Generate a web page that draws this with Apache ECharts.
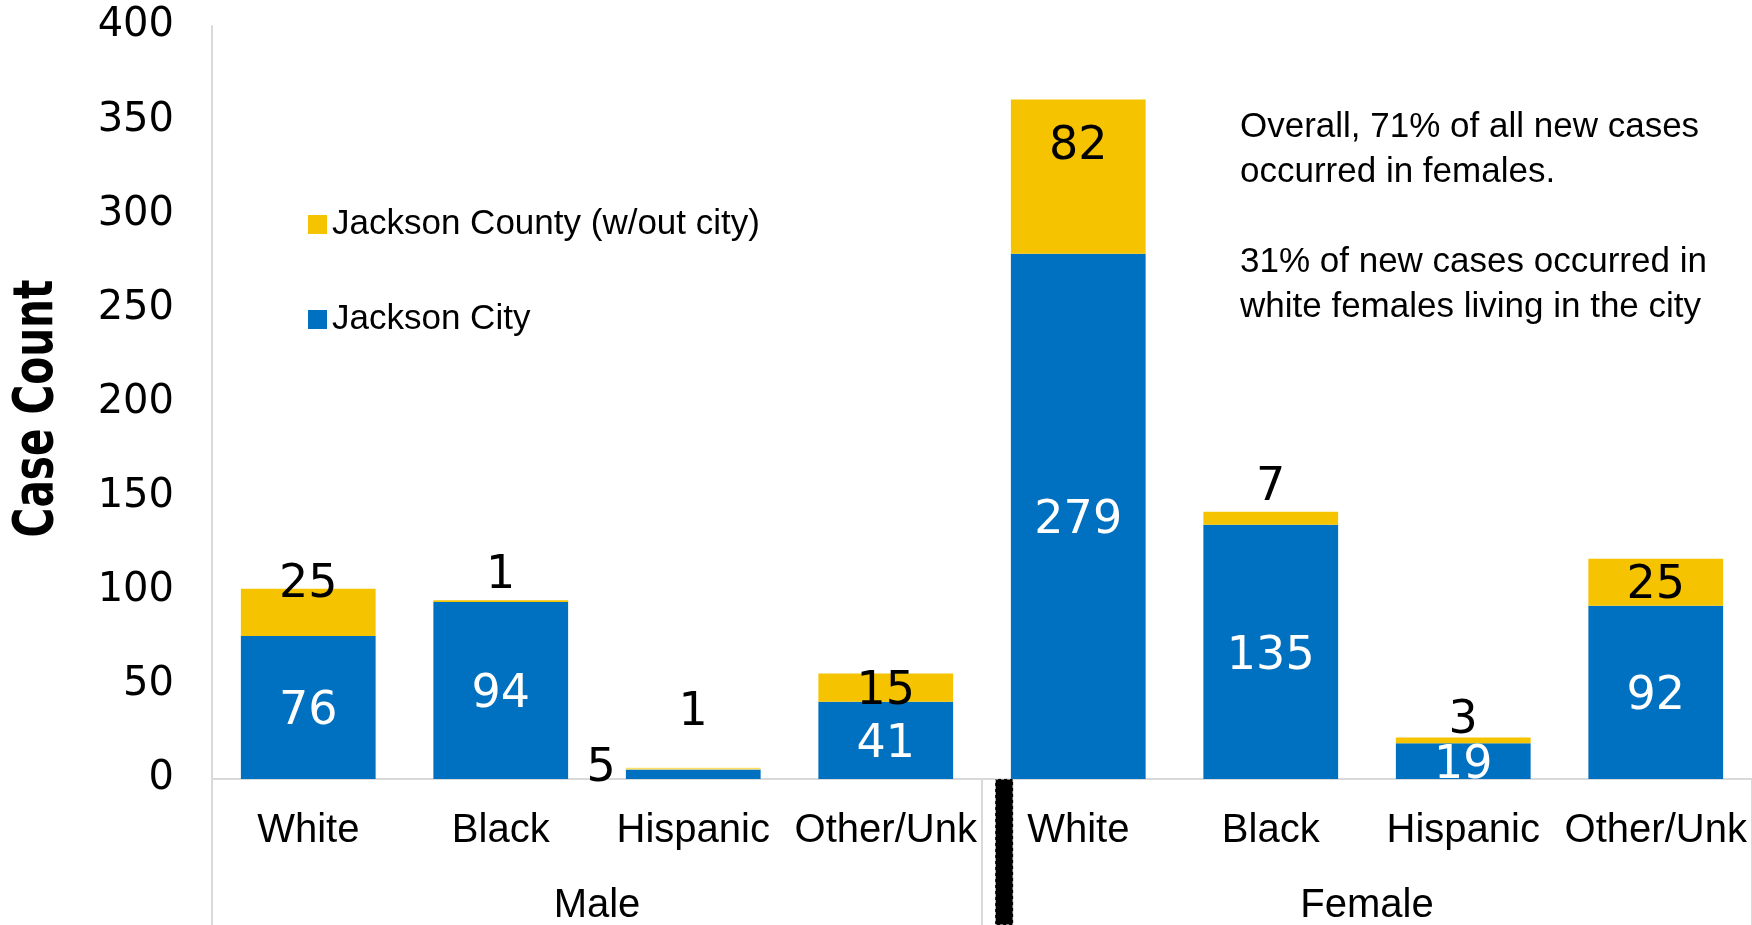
<!DOCTYPE html>
<html>
<head>
<meta charset="utf-8">
<title>Case Count by Sex and Race</title>
<script src="https://cdn.jsdelivr.net/npm/echarts@6/dist/echarts.min.js"></script>
<style>
  html, body { margin: 0; padding: 0; background: #ffffff; }
  #chart { width: 1752px; height: 925px; }
</style>
</head>
<body>
<div id="chart"></div>
<script>
// Race / ethnicity categories, grouped by sex
const categories = ['White', 'Black', 'Hispanic', 'Other/Unk', 'White', 'Black', 'Hispanic', 'Other/Unk'];
const groups = ['Male', 'Female'];

// New case counts
const cityCases = [76, 94, 5, 41, 279, 135, 19, 92];
const countyCases = [25, 1, 1, 15, 82, 7, 3, 25];

// Value axis
const yMin = 0;
const yMax = 400;
const yStep = 50;
const yTitle = 'Case Count';

const seriesNames = ['Jackson City', 'Jackson County (w/out city)'];

const noteLines = [
  'Overall, 71% of all new cases',
  'occurred in females.',
  '',
  '31% of new cases occurred in',
  'white females living in the city'
];

const BLUE = '#0070C0';
const YELLOW = '#F5C300';
const PALE_YELLOW = '#FFDF66';
const GRID_GREY = '#D9D9D9';
const TEXT_FONT = '"Liberation Sans", Arial, sans-serif';
const NUM_FONT = '"DejaVu Sans", sans-serif';

// Label placement for each county segment
const countyLabelStyle = [
  { position: 'top', offset: [0, 24] },
  { position: 'top', offset: [0, 4] },
  { position: 'top', offset: [0, -27] },
  { position: 'inside', offset: [0, 4] },
  { position: 'insideTop', distance: 20, offset: [0, 5] },
  { position: 'top', offset: [0, 4] },
  { position: 'top', offset: [0, 11] },
  { position: 'inside', offset: [0, 4] }
];

const cityData = cityCases.map(function (v, i) {
  if (i === 2) {
    return { value: v, label: { position: 'left', color: '#000', offset: [-5, -5] } };
  }
  return v;
});

const countyData = countyCases.map(function (v, i) {
  const item = { value: v, label: countyLabelStyle[i] };
  if (i === 2) item.itemStyle = { color: PALE_YELLOW };
  return item;
});

const chart = echarts.init(document.getElementById('chart'));

chart.setOption({
  animation: false,
  backgroundColor: '#ffffff',
  grid: { left: 212, right: 0, top: 26, bottom: 146, containLabel: false, outerBoundsMode: 'none' },
  legend: {
    orient: 'vertical',
    left: 303,
    top: 202,
    itemWidth: 19,
    itemHeight: 19,
    itemGap: 60,
    icon: 'rect',
    data: [seriesNames[1], seriesNames[0]],
    textStyle: { fontFamily: TEXT_FONT, fontSize: 35, color: '#000' }
  },
  xAxis: [
    {
      type: 'category',
      data: categories,
      axisLine: { show: true, lineStyle: { color: GRID_GREY, width: 2 } },
      axisTick: { show: false },
      axisLabel: { margin: 32, fontFamily: TEXT_FONT, fontSize: 40, color: '#000', interval: 0 }
    },
    {
      type: 'category',
      data: groups,
      position: 'bottom',
      axisLine: { show: false },
      axisTick: { show: true, length: 146, lineStyle: { color: GRID_GREY, width: 2 } },
      axisLabel: { margin: 107, fontFamily: TEXT_FONT, fontSize: 40, color: '#000' }
    }
  ],
  yAxis: {
    type: 'value',
    min: yMin,
    max: yMax,
    interval: yStep,
    axisLine: { show: true, lineStyle: { color: GRID_GREY, width: 2 } },
    axisTick: { show: false },
    splitLine: { show: false },
    axisLabel: { margin: 38, fontFamily: NUM_FONT, fontSize: 40, color: '#000', padding: [6, 0, 0, 0] }
  },
  series: [
    {
      name: seriesNames[0],
      type: 'bar',
      stack: 'cases',
      barCategoryGap: '30%',
      itemStyle: { color: BLUE },
      label: { show: true, position: 'inside', offset: [0, 5], color: '#fff', fontFamily: NUM_FONT, fontSize: 46 },
      data: cityData
    },
    {
      name: seriesNames[1],
      type: 'bar',
      stack: 'cases',
      barCategoryGap: '30%',
      itemStyle: { color: YELLOW },
      label: { show: true, color: '#000', fontFamily: NUM_FONT, fontSize: 46 },
      data: countyData
    }
  ]
});

// Group divider, condensed axis title and the side note
function drawExtras() {
  const p3 = chart.convertToPixel({ xAxisIndex: 0 }, 3);
  const p4 = chart.convertToPixel({ xAxisIndex: 0 }, 4);
  const y0 = chart.convertToPixel({ yAxisIndex: 0 }, yMin);
  const yTop = chart.convertToPixel({ yAxisIndex: 0 }, yMax);
  const band = p4 - p3;
  const cx = (p3 + p4) / 2 + band * 0.115;
  chart.setOption({
    graphic: [
      {
        type: 'rect',
        shape: { x: cx - 9, y: y0, width: 18, height: chart.getHeight() - y0 },
        style: { fill: '#000', stroke: '#ffffff', lineWidth: 1, lineDash: [3, 3] },
        z: 10
      },
      {
        type: 'text',
        x: 38,
        y: (y0 + yTop) / 2 + 6,
        rotation: Math.PI / 2,
        scaleX: 0.82,
        style: {
          text: yTitle,
          fontFamily: '"DejaVu Sans Condensed", "DejaVu Sans", sans-serif',
          fontWeight: 'bold',
          fontSize: 55,
          fill: '#000',
          align: 'center',
          verticalAlign: 'middle'
        }
      },
      {
        type: 'text',
        left: 1240,
        top: 105,
        style: {
          text: noteLines.join('\n'),
          fontFamily: TEXT_FONT,
          fontSize: 35,
          lineHeight: 45,
          fill: '#000'
        }
      }
    ]
  });
}
drawExtras();
</script>
</body>
</html>
